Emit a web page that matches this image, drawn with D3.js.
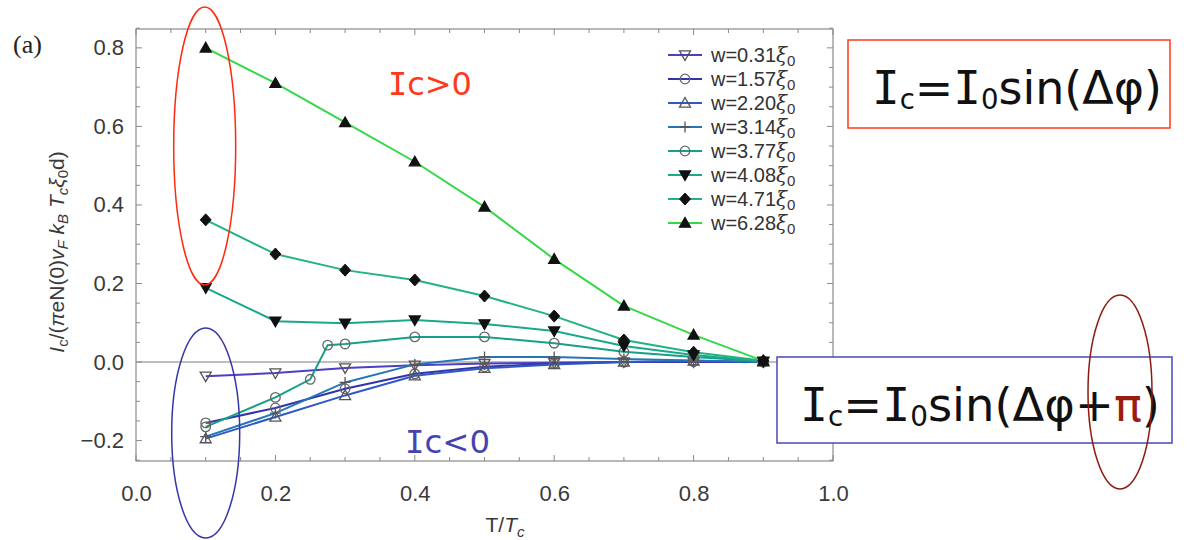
<!DOCTYPE html>
<html><head><meta charset="utf-8">
<script src="https://cdn.jsdelivr.net/npm/d3@7"></script>
<style>body{margin:0;background:#fff}svg{display:block}</style>
</head><body>
<svg id="c" width="1193" height="540"></svg>
<script>
// ---- data ----
const xStd = [0.1,0.2,0.3,0.4,0.5,0.6,0.7,0.8,0.9];
const xKink = [0.1,0.2,0.25,0.275,0.3,0.4,0.5,0.6,0.7,0.8,0.9];
const labels = ["0.31","1.57","2.20","3.14","3.77","4.08","4.71","6.28"];
const w031 = [-0.036,-0.028,-0.015,-0.008,-0.004,-0.002,0,0,0];
const w157 = [-0.155,-0.117,-0.068,-0.03,-0.012,-0.004,0,0.001,0];
const w220 = [-0.195,-0.14,-0.085,-0.035,-0.016,-0.006,0,0.003,0];
const w314 = [-0.19,-0.13,-0.052,-0.006,0.013,0.013,0.008,0.004,0];
const w377 = [-0.165,-0.09,-0.044,0.043,0.046,0.064,0.064,0.048,0.026,0.013,0.002];
const w408 = [0.189,0.104,0.099,0.107,0.097,0.079,0.041,0.018,0.002];
const w471 = [0.362,0.275,0.234,0.209,0.168,0.117,0.056,0.025,0.003];
const w628 = [0.80,0.71,0.61,0.51,0.395,0.262,0.143,0.069,0.003];
const xTicks = [0,0.2,0.4,0.6,0.8,1.0];
const yTicks = [-0.2,0,0.2,0.4,0.6,0.8];

const seriesY = [w031,w157,w220,w314,w377,w408,w471,w628];
const seriesX = [xStd,xStd,xStd,xStd,xKink,xStd,xStd,xStd];
const colors = ["#4b3fc4","#3434aa","#2f58c8","#2476b4","#16a08a","#1aa88c","#22b47c","#36d84a"];
const markers = ["tdown","circle","tup","plus","circle","tdownF","diamondF","tupF"];

const svg = d3.select("#c");
const L=136,R=833,T=29,B=461;
const x = d3.scaleLinear().domain([0,1]).range([L,R]);
const y = d3.scaleLinear().domain([-0.252,0.848]).range([B,T]);
const sans = "Liberation Sans, Arial, sans-serif";

// frame
svg.append("rect").attr("x",L).attr("y",T).attr("width",R-L).attr("height",B-T)
  .attr("fill","none").attr("stroke","#8a8a8a").attr("stroke-width",1.2);
// zero line
svg.append("line").attr("x1",L).attr("x2",R).attr("y1",y(0)).attr("y2",y(0))
  .attr("stroke","#a8a8a8").attr("stroke-width",1.5);

// ticks (inward, mirrored)
const tickCol="#8a8a8a";
d3.range(0,1.0001,0.05).forEach(v=>{
  const r=Math.round(v*100), len = r%20===0?6:4;
  svg.append("line").attr("x1",x(v)).attr("x2",x(v)).attr("y1",B).attr("y2",B-len).attr("stroke",tickCol);
  svg.append("line").attr("x1",x(v)).attr("x2",x(v)).attr("y1",T).attr("y2",T+len).attr("stroke",tickCol);
});
d3.range(-0.25,0.8501,0.05).forEach(v=>{
  const r=Math.round(v*100), len = r%20===0?6:4;
  svg.append("line").attr("x1",L).attr("x2",L+len).attr("y1",y(v)).attr("y2",y(v)).attr("stroke",tickCol);
  svg.append("line").attr("x1",R).attr("x2",R-len).attr("y1",y(v)).attr("y2",y(v)).attr("stroke",tickCol);
});

// tick labels via axes
const fmt = d3.format(".1f");
const xa = svg.append("g").attr("transform",`translate(0,${B})`)
  .call(d3.axisBottom(x).tickValues(xTicks).tickSize(0).tickPadding(24).tickFormat(fmt));
const ya = svg.append("g").attr("transform",`translate(${L},0)`)
  .call(d3.axisLeft(y).tickValues(yTicks).tickSize(0).tickPadding(12).tickFormat(d=>d<0?"\u2212"+fmt(-d):fmt(d)));
[xa,ya].forEach(g=>{g.select(".domain").remove();
  g.selectAll("text").attr("font-family",sans).attr("font-size",22).attr("fill","#3a3a3a");});

// lines
const lineGen = d3.line().x(d=>x(d[0])).y(d=>y(d[1]));
seriesY.forEach((ys,i)=>{
  const pts = seriesX[i].map((xv,j)=>[xv,ys[j]]);
  svg.append("path").attr("d",lineGen(pts)).attr("fill","none")
    .attr("stroke",colors[i]).attr("stroke-width",2);
});

function drawMarker(g,type,cx,cy){
  const s=5.5;
  if(type==="circle"){
    g.append("circle").attr("cx",cx).attr("cy",cy).attr("r",4.8).attr("fill","none").attr("stroke","#666").attr("stroke-width",1.3);
  } else if(type==="tup"||type==="tupF"){
    const p=`M${cx},${cy-s}L${cx+s},${cy+s*0.75}L${cx-s},${cy+s*0.75}Z`;
    g.append("path").attr("d",p).attr("fill",type==="tupF"?"#111":"none").attr("stroke",type==="tupF"?"#111":"#555").attr("stroke-width",1.3);
  } else if(type==="tdown"||type==="tdownF"){
    const p=`M${cx},${cy+s}L${cx+s},${cy-s*0.75}L${cx-s},${cy-s*0.75}Z`;
    g.append("path").attr("d",p).attr("fill",type==="tdownF"?"#111":"none").attr("stroke",type==="tdownF"?"#111":"#555").attr("stroke-width",1.3);
  } else if(type==="diamondF"){
    const p=`M${cx},${cy-s-0.5}L${cx+s},${cy}L${cx},${cy+s+0.5}L${cx-s},${cy}Z`;
    g.append("path").attr("d",p).attr("fill","#111").attr("stroke","#111");
  } else if(type==="plus"){
    g.append("path").attr("d",`M${cx-s},${cy}H${cx+s}M${cx},${cy-s}V${cy+s}`).attr("stroke","#555").attr("stroke-width",1.3);
  }
}
const mg = svg.append("g");
seriesY.forEach((ys,i)=>{
  seriesX[i].forEach((xv,j)=>drawMarker(mg,markers[i],x(xv),y(ys[j])));
});

// legend
const lg = svg.append("g");
const ly0=55, ldy=24;
labels.forEach((lab,i)=>{
  const yy = ly0+i*ldy;
  lg.append("line").attr("x1",668).attr("x2",702).attr("y1",yy).attr("y2",yy).attr("stroke",colors[i]).attr("stroke-width",2);
  drawMarker(lg,markers[i],685,yy);
  const t = lg.append("text").attr("x",711).attr("y",yy+7).attr("font-family",sans)
    .attr("font-size",20).attr("fill","#333");
  t.append("tspan").text("w="+lab);
  t.append("tspan").attr("font-family","DejaVu Serif, serif").attr("font-style","italic").text("\u03BE");
  t.append("tspan").attr("font-size",15).attr("dy",4).text("0");
});

// axis titles
const sub=15;
const yl = svg.append("text").attr("transform","translate(64,252) rotate(-90)").attr("text-anchor","middle")
  .attr("font-family",sans).attr("font-size",21).attr("fill","#3a3a3a");
yl.append("tspan").attr("font-style","italic").text("I");
yl.append("tspan").attr("font-size",sub).attr("dy",4).text("c");
yl.append("tspan").attr("dy",-4).text("/(");
yl.append("tspan").attr("font-style","italic").text("\u03C0");
yl.append("tspan").text("eN(0)");
yl.append("tspan").attr("font-style","italic").text("v");
yl.append("tspan").attr("font-size",sub).attr("font-style","italic").attr("dy",4).text("F");
yl.append("tspan").attr("dy",-4).attr("font-style","italic").text(" k");
yl.append("tspan").attr("font-size",sub).attr("font-style","italic").attr("dy",4).text("B");
yl.append("tspan").attr("dy",-4).attr("font-style","italic").text(" T");
yl.append("tspan").attr("font-size",sub).attr("font-style","italic").attr("dy",4).text("c");
yl.append("tspan").attr("dy",-4).attr("font-style","italic").text("\u03BE");
yl.append("tspan").attr("font-size",sub).attr("dy",4).text("0");
yl.append("tspan").attr("dy",-4).text("d)");

const xl = svg.append("text").attr("x",505).attr("y",532).attr("text-anchor","middle")
  .attr("font-family",sans).attr("font-size",21).attr("fill","#3a3a3a");
xl.append("tspan").text("T/");
xl.append("tspan").attr("font-style","italic").text("T");
xl.append("tspan").attr("font-size",sub).attr("font-style","italic").attr("dy",5).text("c");

svg.append("text").attr("x",13).attr("y",53).attr("font-family","Liberation Serif, Times New Roman, serif")
  .attr("font-size",26).attr("fill","#222").text("(a)");

// annotations
const annFont = "'Comic Sans MS', 'DejaVu Sans', sans-serif";
const serifI = "'DejaVu Sans Mono', monospace";
svg.append("ellipse").attr("cx",x(0.1)-1).attr("cy",146).attr("rx",31).attr("ry",139)
  .attr("fill","none").attr("stroke","#ff2a10").attr("stroke-width",1.5);
svg.append("ellipse").attr("cx",x(0.1)).attr("cy",433).attr("rx",34).attr("ry",105)
  .attr("fill","none").attr("stroke","#3636a8").attr("stroke-width",1.5);

// fit a text element's font-size so its natural width equals target
function fitWidth(t,base,target){
  t.attr("font-size",base);
  const w = t.node().getComputedTextLength();
  t.attr("font-size",base*target/w);
}
function icText(xp,yp,str,col,w){
  const t = svg.append("text").attr("x",xp).attr("y",yp).attr("font-family",annFont).attr("fill",col);
  t.append("tspan").attr("font-family",serifI).text("I");
  t.append("tspan").text(str.slice(1));
  fitWidth(t,42,w);
}
icText(388,95,"Ic>0","#ff3a1a",84);
icText(405,453,"Ic<0","#4444b0",85);

svg.append("rect").attr("x",848).attr("y",40).attr("width",322).attr("height",88)
  .attr("fill","#fff").attr("stroke","#ff3a1a").attr("stroke-width",1.5);
svg.append("rect").attr("x",777).attr("y",357).attr("width",395).attr("height",86)
  .attr("fill","#fff").attr("stroke","#4a4ab8").attr("stroke-width",1.5);

function eq(xp,yp,withPi,w){
  const t = svg.append("text").attr("x",xp).attr("y",yp).attr("font-family",annFont).attr("fill","#111");
  t.append("tspan").attr("font-family",serifI).text("I");
  t.append("tspan").attr("font-size","0.6em").attr("dy","0.17em").text("c");
  t.append("tspan").attr("dy","-0.1em").text("=");
  t.append("tspan").attr("font-family",serifI).text("I");
  t.append("tspan").attr("font-size","0.6em").attr("dy","0.17em").text("0");
  t.append("tspan").attr("dy","-0.1em").text("sin(\u0394\u03C6");
  if(withPi){
    t.append("tspan").text("+");
    t.append("tspan").attr("fill","#9a1c10").text("\u03C0");
  }
  t.append("tspan").text(")");
  fitWidth(t,52,w);
}
eq(872,104,false,290);
eq(800,421,true,360);
svg.append("ellipse").attr("cx",1120).attr("cy",392).attr("rx",32).attr("ry",97)
  .attr("fill","none").attr("stroke","#8e1a12").attr("stroke-width",1.5);
</script>
</body></html>
